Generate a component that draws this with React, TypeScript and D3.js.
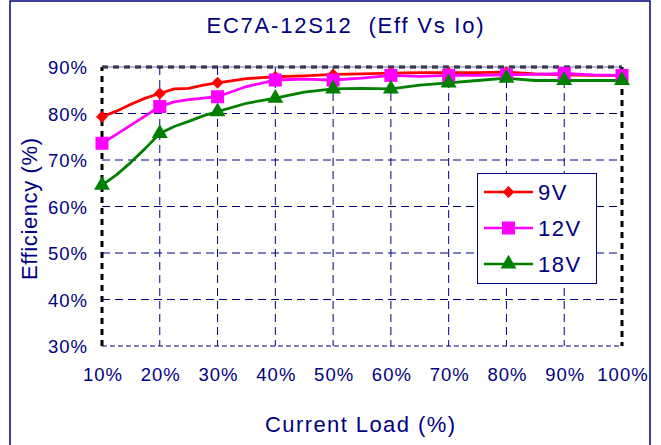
import React, { useEffect, useRef } from 'react';
import * as d3 from 'd3';

// load points (%) along each curve; markers sit on the 10% steps
const loads = [10, 12.5, 15, 17.5, 20, 22.5, 25, 27.5, 30, 35, 40, 45, 50, 55, 60, 65, 70, 75, 80, 85, 90, 95, 100];
const eff9V = [79.3, 80.5, 82.0, 83.3, 84.3, 85.3, 85.4, 86.1, 86.6, 87.5, 87.9, 88.1, 88.4, 88.5, 88.7, 88.8, 88.8, 88.8, 88.9, 88.5, 88.3, 88.2, 88.2];
const eff12V = [73.6, 75.5, 77.5, 79.5, 81.5, 82.5, 83.0, 83.3, 83.6, 85.8, 87.2, 87.4, 87.2, 87.6, 88.2, 88.0, 88.2, 88.2, 88.3, 88.4, 88.6, 88.3, 88.2];
const eff18V = [64.6, 66.8, 69.5, 72.5, 75.7, 77.2, 78.3, 79.5, 80.4, 82.2, 83.3, 84.6, 85.3, 85.4, 85.3, 86.1, 86.6, 87.1, 87.6, 87.1, 87.1, 87.1, 87.1];
const xTicks = [10, 20, 30, 40, 50, 60, 70, 80, 90, 100];
const yTicks = [30, 40, 50, 60, 70, 80, 90];
const seriesNames = ['9V', '12V', '18V'];

const W = 661;
const H = 445;
const navy = '#000080';
const font = 'Arial, "Liberation Sans", sans-serif';

export default function App() {
  const svgRef = useRef<SVGSVGElement>(null);

  useEffect(() => {
    const svg = d3.select(svgRef.current).attr('width', W).attr('height', H);
    svg.selectAll('*').remove();

    const x = d3.scaleLinear().domain([10, 100]).range([102, 622]);
    const y = d3.scaleLinear().domain([30, 90]).range([346, 67]);

    // outer frame
    svg.append('rect').attr('x', 10).attr('y', 1).attr('width', 640).attr('height', 450)
      .attr('fill', 'white').attr('stroke', navy).attr('stroke-width', 1.5);

    svg.append('text').attr('x', 345).attr('y', 33).attr('text-anchor', 'middle')
      .attr('font-family', font).attr('font-size', 22).attr('fill', navy)
      .attr('xml:space', 'preserve').attr('textLength', 277).attr('lengthAdjust', 'spacing')
      .text('EC7A-12S12  (Eff Vs Io)');

    const g = svg.append('g');

    // grid
    g.selectAll('.hg').data(yTicks.slice(1, -1)).join('line')
      .attr('x1', x(10)).attr('x2', x(100)).attr('y1', d => y(d)).attr('y2', d => y(d))
      .attr('stroke', navy).attr('stroke-width', 1).attr('stroke-dasharray', '8,5');
    g.selectAll('.vg').data(xTicks.slice(1, -1)).join('line')
      .attr('y1', y(90)).attr('y2', y(30)).attr('x1', d => x(d)).attr('x2', d => x(d))
      .attr('stroke', navy).attr('stroke-width', 1).attr('stroke-dasharray', '8,5');

    // plot area border
    g.append('line').attr('x1', x(10)).attr('x2', x(100)).attr('y1', y(30)).attr('y2', y(30))
      .attr('stroke', navy).attr('stroke-width', 1.2).attr('stroke-dasharray', '5,3');
    const border = [
      [x(10), y(30), x(10), y(90)],
      [x(10), y(90), x(100), y(90)],
      [x(100), y(90), x(100), y(30)],
    ];
    g.selectAll('.bd').data(border).join('line')
      .attr('x1', d => d[0]).attr('y1', d => d[1]).attr('x2', d => d[2]).attr('y2', d => d[3])
      .attr('stroke', '#000').attr('stroke-width', 3).attr('stroke-dasharray', '6,5');
    g.append('line').attr('x1', x(10)).attr('x2', x(100)).attr('y1', y(90)).attr('y2', y(90))
      .attr('stroke', '#6f6fb0').attr('stroke-width', 1);

    // ticks
    g.selectAll('.yt').data(yTicks).join('text')
      .attr('x', 88).attr('y', d => y(d) + 7).attr('text-anchor', 'end')
      .attr('font-family', font).attr('font-size', 18.5).attr('fill', navy)
      .attr('letter-spacing', 1)
      .text(d => d + '%');
    g.selectAll('.xt').data(xTicks).join('text')
      .attr('x', d => x(d) + 1).attr('y', 381).attr('text-anchor', 'middle')
      .attr('font-family', font).attr('font-size', 18.5).attr('fill', navy)
      .attr('letter-spacing', 1)
      .text(d => d + '%');

    svg.append('text').attr('x', 360).attr('y', 432).attr('text-anchor', 'middle')
      .attr('font-family', font).attr('font-size', 22).attr('fill', navy)
      .attr('textLength', 190).attr('lengthAdjust', 'spacing')
      .text('Current Load (%)');
    svg.append('text').attr('transform', 'translate(37,209) rotate(-90)').attr('text-anchor', 'middle')
      .attr('font-family', font).attr('font-size', 22).attr('fill', navy)
      .attr('textLength', 142).attr('lengthAdjust', 'spacing')
      .text('Efficiency (%)');

    const series = [
      { name: seriesNames[0], vals: eff9V, color: '#ff0000', sym: d3.symbolDiamond2, size: 90 },
      { name: seriesNames[1], vals: eff12V, color: '#ff00ff', sym: d3.symbolSquare, size: 170 },
      { name: seriesNames[2], vals: eff18V, color: '#008000', sym: d3.symbolTriangle, size: 110 },
    ];

    const line = d3.line<number>().x((d, i) => x(loads[i])).y(d => y(d));
    const symbol = (s: any) => d3.symbol().type(s.sym).size(s.size)();

    series.forEach(s => {
      g.append('path').attr('d', line(s.vals)).attr('fill', 'none')
        .attr('stroke', s.color).attr('stroke-width', 2.8).attr('stroke-linejoin', 'round');
    });
    series.forEach(s => {
      const pts = loads.map((l, i) => [l, s.vals[i]]).filter(p => p[0] % 10 === 0);
      g.selectAll('.m' + s.name).data(pts).join('path')
        .attr('d', symbol(s))
        .attr('transform', d => `translate(${x(d[0])},${y(d[1])})`)
        .attr('fill', s.color);
    });

    // legend
    const lg = svg.append('g');
    lg.append('rect').attr('x', 477.5).attr('y', 173.5).attr('width', 119).attr('height', 110)
      .attr('fill', 'white').attr('stroke', navy).attr('stroke-width', 1);
    series.forEach((s, i) => {
      const cy = 192 + i * 36;
      lg.append('line').attr('x1', 484).attr('x2', 533).attr('y1', cy).attr('y2', cy)
        .attr('stroke', s.color).attr('stroke-width', 2.5);
      lg.append('path').attr('d', symbol(s)).attr('transform', `translate(508.5,${cy})`).attr('fill', s.color);
      lg.append('text').attr('x', 538).attr('y', cy + 8)
        .attr('font-family', font).attr('font-size', 22).attr('fill', navy)
        .attr('letter-spacing', 1.5)
        .text(s.name);
    });
  }, []);

  return (
    <div style={{ position: 'absolute', left: 0, top: 0 }}>
      <svg ref={svgRef} style={{ display: 'block' }}></svg>
    </div>
  );
}
